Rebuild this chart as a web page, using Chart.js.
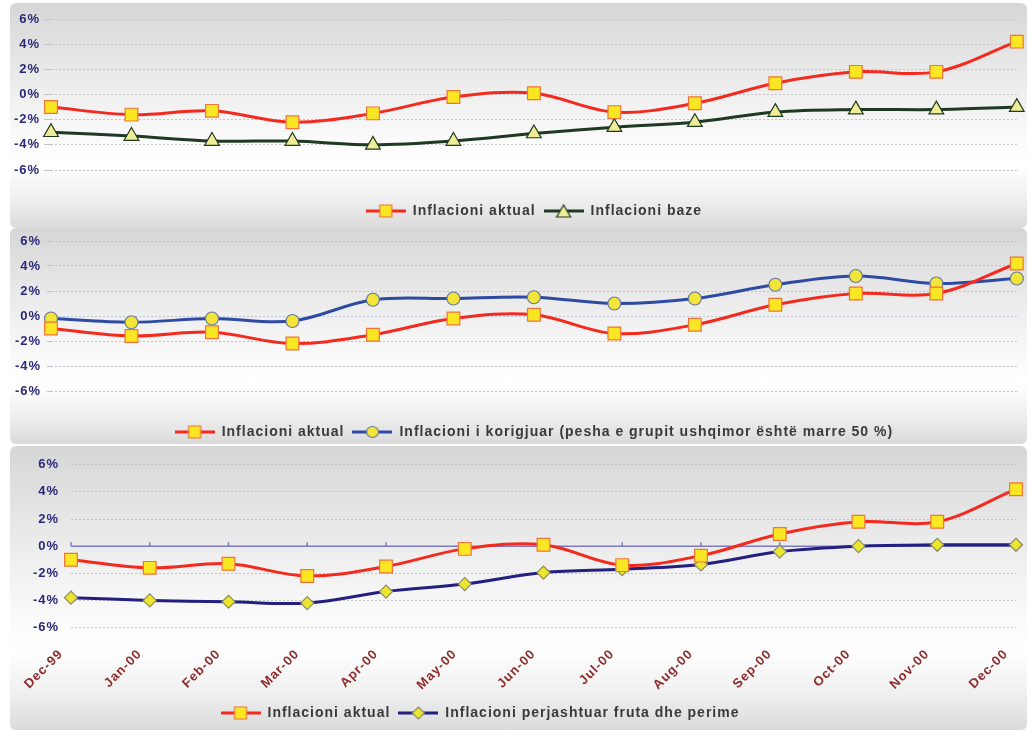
<!DOCTYPE html>
<html>
<head>
<meta charset="utf-8">
<script src="https://cdn.jsdelivr.net/npm/chart.js@4.4.0/dist/chart.umd.min.js"></script>
<style>
  html, body { margin: 0; padding: 0; background: #fff; }
  body { width: 1027px; height: 730px; position: relative; overflow: hidden; }
  .panel {
    position: absolute; left: 10px; width: 1017px; border-radius: 6px;
    background: linear-gradient(to bottom, #d6d6d6 0%, #e9e9e9 30%, #fafafa 60%, #ffffff 72%, #eeeeee 88%, #dadada 100%);
  }
  .box { position: absolute; left: 0; width: 1027px; }
</style>
</head>
<body>
<div class="panel" style="top:3px;height:225px"></div>
<div class="panel" style="top:228px;height:216px"></div>
<div class="panel" style="top:446px;height:284px"></div>

<div class="box" style="top:0;height:228px"><canvas id="grafiku1"></canvas></div>
<div class="box" style="top:226px;height:223px"><canvas id="grafiku2"></canvas></div>
<div class="box" style="top:445px;height:285px"><canvas id="grafiku3"></canvas></div>

<script>
// te dhenat
const meset = ['Dec-99', 'Jan-00', 'Feb-00', 'Mar-00', 'Apr-00', 'May-00', 'Jun-00',
               'Jul-00', 'Aug-00', 'Sep-00', 'Oct-00', 'Nov-00', 'Dec-00'];
const inflacioniAktual = [-1.0, -1.6, -1.3, -2.2, -1.5, -0.2, 0.1, -1.4, -0.7, 0.9, 1.8, 1.8, 4.2];
const inflacioniBaze = [-3.0, -3.3, -3.7, -3.7, -4.0, -3.7, -3.1, -2.6, -2.2, -1.4, -1.2, -1.2, -1.0];
const inflacioniKorigjuar = [-0.2, -0.5, -0.2, -0.4, 1.3, 1.4, 1.5, 1.0, 1.4, 2.5, 3.2, 2.6, 3.0];
const inflacioniPerjashtuar = [-3.8, -4.0, -4.1, -4.2, -3.35, -2.8, -1.95, -1.7, -1.35, -0.4, 0.0, 0.1, 0.1];
const yMin = -6, yMax = 6, yHapi = 2;

const FONT = "'Liberation Sans', Arial, sans-serif";

// ngjyrat
const cKuqe = '#f42a1e', cKatrorMbushje = '#fbe624', cKatrorKufi = '#f07438';
const cJeshile = '#1e3a22', cTrekendMbushje = '#eeec94';
const cBlu = '#2e4ba3', cRrethMbushje = '#f2e53a', cRrethKufi = '#6a7898';
const cVjollce = '#231f80', cRombMbushje = '#ece72e', cRombKufi = '#8a8a6a';

// ikona per legjenden: vije + shenje ne mes
function ikonaLegjende(ngjyraVije, forma, mbushje, kufi) {
    const c = document.createElement('canvas');
    c.width = 40; c.height = 16;
    const g = c.getContext('2d');
    g.strokeStyle = ngjyraVije; g.lineWidth = 3;
    g.beginPath(); g.moveTo(0, 8); g.lineTo(40, 8); g.stroke();
    g.fillStyle = mbushje; g.strokeStyle = kufi; g.lineWidth = 1.2;
    g.beginPath();
    if (forma === 'rect') { g.rect(14, 2, 12, 12); }
    else if (forma === 'triangle') { g.moveTo(20, 2); g.lineTo(27, 14); g.lineTo(13, 14); g.closePath(); }
    else if (forma === 'circle') { g.ellipse(20, 8, 6, 5.5, 0, 0, Math.PI * 2); }
    else { g.moveTo(20, 2); g.lineTo(26, 8); g.lineTo(20, 14); g.lineTo(14, 8); g.closePath(); }
    g.fill(); g.stroke();
    return c;
}

const hapesiraShkronjash = {
    id: 'hapesiraShkronjash',
    beforeUpdate(chart) { chart.ctx.letterSpacing = '1px'; },
    beforeDraw(chart) { chart.ctx.letterSpacing = '1px'; }
};

const vijaZero = {
    id: 'vijaZero',
    beforeDatasetsDraw(chart) {
        const { ctx, chartArea, scales: { x, y } } = chart;
        const py = y.getPixelForValue(0);
        ctx.save();
        ctx.strokeStyle = '#7c78c2';
        ctx.lineWidth = 1.5;
        ctx.beginPath();
        ctx.moveTo(chartArea.left, py);
        ctx.lineTo(chartArea.right, py);
        meset.forEach((m, i) => {
            const px = x.getPixelForValue(i);
            ctx.moveTo(px, py);
            ctx.lineTo(px, py - 4);
        });
        ctx.stroke();
        ctx.restore();
    }
};

function seri(emri, vlerat, ngjyra, forma, mbushje, kufi, rreze) {
    return {
        label: emri,
        data: vlerat,
        borderColor: ngjyra,
        borderWidth: 3,
        tension: 0.35,
        pointStyle: forma,
        pointRadius: rreze,
        pointBackgroundColor: mbushje,
        pointBorderColor: kufi,
        pointBorderWidth: 1.2,
        clip: false,
        ikona: ikonaLegjende(ngjyra, forma, mbushje, kufi)
    };
}

function krijoGrafik(id, datasets, opt) {
    const ctx = document.getElementById(id).getContext('2d');
    return new Chart(ctx, {
        type: 'line',
        data: { labels: meset, datasets: datasets },
        plugins: opt.plugins || [hapesiraShkronjash],
        options: {
            responsive: true,
            maintainAspectRatio: false,
            animation: false,
            layout: { padding: opt.padding },
            plugins: {
                tooltip: { enabled: false },
                legend: {
                    position: 'bottom',
                    fullSize: opt.fullSize,
                    labels: {
                        usePointStyle: true,
                        pointStyleWidth: 40,
                        padding: 8,
                        color: '#3a3a3a',
                        font: { family: FONT, size: 14, weight: 'bold' },
                        generateLabels(chart) {
                            const items = Chart.defaults.plugins.legend.labels.generateLabels(chart);
                            items.forEach(it => { it.pointStyle = chart.data.datasets[it.datasetIndex].ikona; });
                            return items;
                        }
                    }
                }
            },
            scales: {
                x: {
                    offset: false,
                    grid: { display: false, drawTicks: !!opt.xGjatesiTick, tickLength: opt.xGjatesiTick || 0 },
                    border: { display: false },
                    ticks: opt.xTicks || { display: false },
                    afterFit: s => { s.height = opt.xLartesia; }
                },
                y: {
                    min: yMin, max: yMax,
                    grid: { color: opt.ngjyraRrjeti, lineWidth: 1, drawTicks: opt.yGjatesiTick > 0, tickLength: opt.yGjatesiTick },
                    border: { display: false, dash: [2, 2] },
                    ticks: {
                        stepSize: yHapi,
                        padding: opt.yPadding,
                        color: '#2b2979',
                        font: { family: FONT, size: 13, weight: 'bold' },
                        callback: v => v + '%'
                    },
                    afterFit: s => { s.width = opt.yGjeresia; }
                }
            }
        }
    });
}

krijoGrafik('grafiku1', [
    seri('Inflacioni aktual', inflacioniAktual, cKuqe, 'rect', cKatrorMbushje, cKatrorKufi, 9),
    seri('Inflacioni baze', inflacioniBaze, cJeshile, 'triangle', cTrekendMbushje, cJeshile, 8.5)
], { padding: { top: 19, right: 7, left: 0, bottom: 0 }, fullSize: false, xLartesia: 26,
     yGjeresia: 51, yGjatesiTick: 7, yPadding: 4, ngjyraRrjeti: '#c4c4c8' });

krijoGrafik('grafiku2', [
    seri('Inflacioni aktual', inflacioniAktual, cKuqe, 'rect', cKatrorMbushje, cKatrorKufi, 9),
    seri('Inflacioni i korigjuar (pesha e grupit ushqimor është marre 50 %)', inflacioniKorigjuar, cBlu, 'circle', cRrethMbushje, cRrethKufi, 6.5)
], { padding: { top: 15, right: 7, left: 0, bottom: 0 }, fullSize: false, xLartesia: 26,
     yGjeresia: 51, yGjatesiTick: 4, yPadding: 6, ngjyraRrjeti: '#bcc0d4' });

// legjenda e trete eshte e zhvendosur majtas ne origjinal
krijoGrafik('grafiku3', [
    seri('Inflacioni aktual', inflacioniAktual, cKuqe, 'rect', cKatrorMbushje, cKatrorKufi, 9),
    seri('Inflacioni perjashtuar fruta dhe perime', inflacioniPerjashtuar, cVjollce, 'rectRot', cRombMbushje, cRombKufi, 6.5)
], { padding: { top: 15, right: 11, left: -56, bottom: 0 }, fullSize: true, xLartesia: 70.5,
     yGjeresia: 127, yGjatesiTick: 0, yPadding: 12, ngjyraRrjeti: '#c4c4c8', xGjatesiTick: 19,
     plugins: [hapesiraShkronjash, vijaZero],
     xTicks: {
         display: true, autoSkip: false, minRotation: 45, maxRotation: 45, padding: 0, labelOffset: -10,
         color: '#8e2c2c', font: { family: FONT, size: 13, weight: 'bold' }
     } });
</script>
</body>
</html>
